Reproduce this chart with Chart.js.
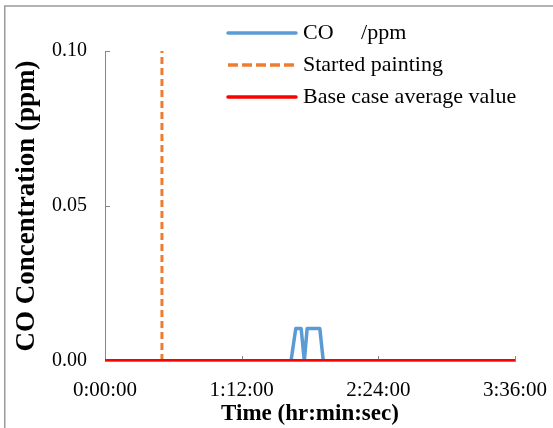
<!DOCTYPE html>
<html>
<head>
<meta charset="utf-8">
<script src="https://cdn.jsdelivr.net/npm/chart.js@4.4.0/dist/chart.umd.min.js"></script>
<style>
  body { margin: 0; background: #fff; }
</style>
</head>
<body>
<canvas id="chart" width="553" height="428"></canvas>
<script>
// CO trace (seconds since start, ppm)
var coTime = [0, 5880, 6030, 6200, 6300, 6390, 6790, 6900, 12960];
var coPpm = [0, 0, 0.0105, 0.0105, 0, 0.0105, 0.0105, 0, 0];
// vertical marker: painting started at 0:30:00
var paintTime = [1800, 1800];
var paintY = [0, 0.1];
// base case average
var baseTime = [0, 12960];
var baseAvg = [0, 0];
var xTicks = [0, 4320, 8640, 12960];
var yTicks = [0, 0.05, 0.1];

var serif = "'Liberation Serif', 'Times New Roman', serif";

function pad2(n) { return (n < 10 ? "0" : "") + n; }
function hms(s) {
  var h = Math.floor(s / 3600);
  var m = Math.floor((s % 3600) / 60);
  return h + ":" + pad2(m) + ":" + pad2(Math.round(s % 60));
}
function toPoints(xs, ys) {
  return xs.map(function (x, i) { return { x: x, y: ys[i] }; });
}

var frame = {
  id: "frame",
  beforeDraw: function (chart) {
    var ctx = chart.ctx;
    ctx.save();
    ctx.fillStyle = "#fff";
    ctx.fillRect(0, 0, chart.width, chart.height);
    ctx.strokeStyle = "#9a9a9a";
    ctx.lineWidth = 1.5;
    ctx.strokeRect(4.75, 6, 700, 700);
    ctx.restore();
  },
};

// Excel style tick marks that point into the plot
var innerTicks = {
  id: "innerTicks",
  beforeDatasetsDraw: function (chart) {
    var ctx = chart.ctx, a = chart.chartArea;
    var xs = chart.scales.x, ys = chart.scales.y;
    ctx.save();
    ctx.strokeStyle = "#868686";
    ctx.lineWidth = 1;
    ctx.beginPath();
    xTicks.forEach(function (v) {
      var px = Math.round(xs.getPixelForValue(v)) + 0.5;
      ctx.moveTo(px, a.bottom);
      ctx.lineTo(px, a.bottom - 5);
    });
    yTicks.forEach(function (v) {
      var py = Math.round(ys.getPixelForValue(v)) + 0.5;
      ctx.moveTo(a.left, py);
      ctx.lineTo(a.left + 5, py);
    });
    ctx.stroke();
    ctx.restore();
  },
};

var sideLegend = {
  id: "sideLegend",
  afterDraw: function (chart) {
    var ctx = chart.ctx;
    ctx.save();
    ctx.font = "22px " + serif;
    ctx.textBaseline = "middle";
    ctx.fillStyle = "#000";
    chart.data.datasets.forEach(function (ds, i) {
      var y = 33 + i * 32;
      ctx.beginPath();
      ctx.strokeStyle = ds.borderColor;
      ctx.lineWidth = 3.5;
      ctx.lineCap = ds.borderDash ? "butt" : "round";
      ctx.setLineDash(ds.borderDash ? [10, 4] : []);
      ctx.moveTo(228, y);
      ctx.lineTo(296, y);
      ctx.stroke();
      ctx.setLineDash([]);
      ctx.fillText(ds.label, 303, y);
    });
    ctx.restore();
  },
};

new Chart(document.getElementById("chart"), {
  type: "line",
  data: {
    datasets: [
      {
        label: "CO     /ppm",
        data: toPoints(coTime, coPpm),
        borderColor: "#5B9BD5",
        borderWidth: 3.5,
        pointRadius: 0,
        borderJoinStyle: "round",
        order: 2,
      },
      {
        label: "Started painting",
        data: toPoints(paintTime, paintY),
        borderColor: "#ED7D31",
        borderWidth: 3,
        borderDash: [7, 4],
        pointRadius: 0,
        order: 1,
      },
      {
        label: "Base case average value",
        data: toPoints(baseTime, baseAvg),
        borderColor: "#FF0000",
        borderWidth: 4,
        pointRadius: 0,
        order: 0,
      },
    ],
  },
  options: {
    responsive: false,
    animation: false,
    layout: { padding: { left: 0, top: 51, right: 38, bottom: 0 } },
    plugins: {
      legend: { display: false },
      tooltip: { enabled: false },
    },
    scales: {
      x: {
        type: "linear",
        min: 0,
        max: 12960,
        afterBuildTicks: function (s) {
          s.ticks = xTicks.map(function (v) { return { value: v }; });
        },
        afterFit: function (s) {
          s.height = 67;
          s.paddingLeft = 0;
          s.paddingRight = 0;
        },
        grid: { display: false, drawTicks: false },
        border: { color: "#868686", width: 1 },
        ticks: {
          padding: 17,
          maxRotation: 0,
          color: "#000",
          font: { family: serif, size: 21 },
          callback: function (v) { return hms(v); },
        },
        title: {
          display: true,
          text: "Time (hr:min:sec)",
          color: "#000",
          padding: 0,
          font: { family: serif, size: 23, weight: "bold" },
        },
      },
      y: {
        min: 0,
        max: 0.1,
        afterBuildTicks: function (s) {
          s.ticks = yTicks.map(function (v) { return { value: v }; });
        },
        afterFit: function (s) { s.width = 105; },
        grid: { display: false, drawTicks: false },
        border: { color: "#868686", width: 1 },
        ticks: {
          padding: 18,
          color: "#000",
          font: { family: serif, size: 20 },
          callback: function (v) { return v.toFixed(2); },
        },
        title: {
          display: true,
          text: "CO Concentration (ppm)",
          color: "#000",
          padding: { top: 11, bottom: 0 },
          font: { family: serif, size: 27, weight: "bold" },
        },
      },
    },
  },
  plugins: [frame, innerTicks, sideLegend],
});
</script>
</body>
</html>
